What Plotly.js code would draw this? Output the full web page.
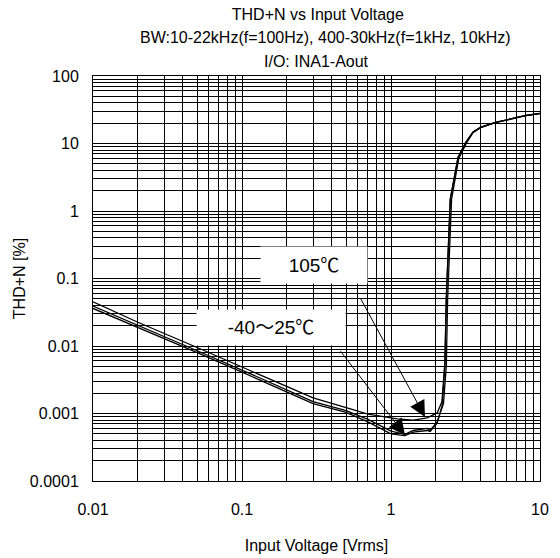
<!DOCTYPE html>
<html>
<head>
<meta charset="utf-8">
<script src="https://cdn.plot.ly/plotly-3.0.1.min.js"></script>
<style>html,body{margin:0;padding:0;background:#fff;}#chart{width:560px;height:558px;}</style>
</head>
<body>
<div id="chart"></div>
<script>
// Series: 105 °C
const x105 = [0.01,0.02,0.05,0.1,0.2,0.3,0.5,0.7,1.1,1.41,1.75,2.04,2.2,2.3,2.35,2.4,2.5,2.82,3.18,3.55,4,5,6,8,10];
const y105 = [0.045,0.0225,0.0095,0.0049,0.0025,0.0017,0.00122,0.00098,0.00083,0.0008,0.00086,0.00102,0.0015,0.006,0.05,0.15,1.5,6.3,10.5,14.8,17.5,20.5,22.3,26,28];
// Series: -40 °C
const xM40 = [0.01,0.02,0.05,0.1,0.2,0.3,0.5,0.7,1.0,1.24,1.41,1.75,1.83,2.04,2.25,2.35,2.4,2.45,2.55,2.85,3.2,3.55,4,5,6,8,10];
const yM40 = [0.039,0.0204,0.0085,0.0044,0.0022,0.0015,0.0011,0.00082,0.00055,0.00049,0.00056,0.0006,0.00056,0.00075,0.0014,0.005,0.05,0.15,1.5,6.0,10,14.5,17.2,20.3,22.1,25.8,27.8];
// Series: 25 °C
const x25 = [0.01,0.02,0.05,0.1,0.2,0.3,0.5,0.7,1.0,1.24,1.41,1.75,1.83,2.04,2.2,2.3,2.35,2.4,2.5,2.82,3.18,3.55,4,5,6,8,10];
const y25 = [0.036,0.019,0.008,0.0041,0.0021,0.0014,0.00104,0.00075,0.0005,0.00047,0.00053,0.00056,0.00054,0.00072,0.0013,0.005,0.05,0.15,1.5,6.2,10.3,14.7,17.4,20.4,22.2,25.9,27.9];

const xTickVals = [];
const xTickText = [];
[0.01,0.1,1].forEach(d => { for (let k=1;k<=9;k++){ xTickVals.push(d*k); xTickText.push(k===1 ? String(+(d).toPrecision(1)) : ''); } });
xTickVals.push(10); xTickText.push('10');
const yTickVals = [];
const yTickText = [];
const yDecadeLabels = ['0.0001','0.001','0.01','0.1','1','10','100'];
[0.0001,0.001,0.01,0.1,1,10].forEach((d,i) => { for (let k=1;k<=9;k++){ yTickVals.push(d*k); yTickText.push(k===1 ? yDecadeLabels[i] : ''); } });
yTickVals.push(100); yTickText.push('100');

const titleLine1 = 'THD+N vs Input Voltage';
const titleLine2 = 'BW:10-22kHz(f=100Hz), 400-30kHz(f=1kHz, 10kHz)';
const titleLine3 = 'I/O: INA1-Aout';
const label105 = '105℃';
const labelLow = '-40～25℃';

const FONT = 'Liberation Sans, Arial, Noto Sans CJK JP, sans-serif';
const lineStyle = {color:'#000', width:1.3};

const traces = [
  {x:x105, y:y105, mode:'lines', line:lineStyle, name:'105℃'},
  {x:xM40, y:yM40, mode:'lines', line:lineStyle, name:'-40℃'},
  {x:x25, y:y25, mode:'lines', line:lineStyle, name:'25℃'}
];

const L = Math.log10;
const layout = {
  width:560, height:558,
  margin:{l:93, r:20, t:76, b:77},
  paper_bgcolor:'#fff', plot_bgcolor:'#fff',
  showlegend:false,
  font:{family:FONT, size:16, color:'#000'},
  title:{text:titleLine1, x:0.503, xref:'paper', xanchor:'center', y:1-14/558, yref:'container', yanchor:'middle', font:{size:16, family:FONT}},
  xaxis:{type:'log', range:[-2,1], tickvals:xTickVals, ticktext:xTickText, showgrid:true, gridcolor:'#000', gridwidth:1,
    showline:true, linecolor:'#000', linewidth:1, mirror:true, ticks:'', zeroline:false, ticklabelstandoff:14,
    title:{text:'Input Voltage [Vrms]', standoff:22, font:{size:16}}, automargin:false},
  yaxis:{type:'log', range:[-4,2], tickvals:yTickVals, ticktext:yTickText, showgrid:true, gridcolor:'#000', gridwidth:1,
    showline:true, linecolor:'#000', linewidth:1, mirror:true, ticks:'', zeroline:false, ticklabelstandoff:10,
    title:{text:'THD+N [%]', standoff:0, font:{size:16}}, automargin:false},
  annotations:[
    {text:titleLine2, xref:'paper', yref:'paper', x:0.52, y:1+(76-38)/405, xanchor:'center', yanchor:'middle', showarrow:false, font:{size:16}},
    {text:titleLine3, xref:'paper', yref:'paper', x:0.501, y:1+(76-61)/405, xanchor:'center', yanchor:'middle', showarrow:false, font:{size:16}},
    {text:' ', xref:'x', yref:'y', x:L(1.69), y:L(0.00089), axref:'x', ayref:'y', ax:-0.228, ay:-1.2, showarrow:true, arrowhead:2, arrowsize:3.2, arrowwidth:1, arrowcolor:'#000'},
    {text:' ', xref:'x', yref:'y', x:L(1.24), y:L(0.00048), axref:'x', ayref:'y', ax:-0.362, ay:-2.01, showarrow:true, arrowhead:2, arrowsize:3.2, arrowwidth:1, arrowcolor:'#000'},
    {text:label105, xref:'x', yref:'y', x:-0.517, y:-0.8, xanchor:'center', yanchor:'middle', showarrow:false, bgcolor:'#fff', width:104, height:34, font:{size:19}},
    {text:labelLow, xref:'x', yref:'y', x:-0.805, y:-1.733, xanchor:'center', yanchor:'middle', showarrow:false, bgcolor:'#fff', width:146, height:33, font:{size:19}}
  ]
};
Plotly.newPlot('chart', traces, layout, {staticPlot:true, displayModeBar:false});
</script>
</body>
</html>
